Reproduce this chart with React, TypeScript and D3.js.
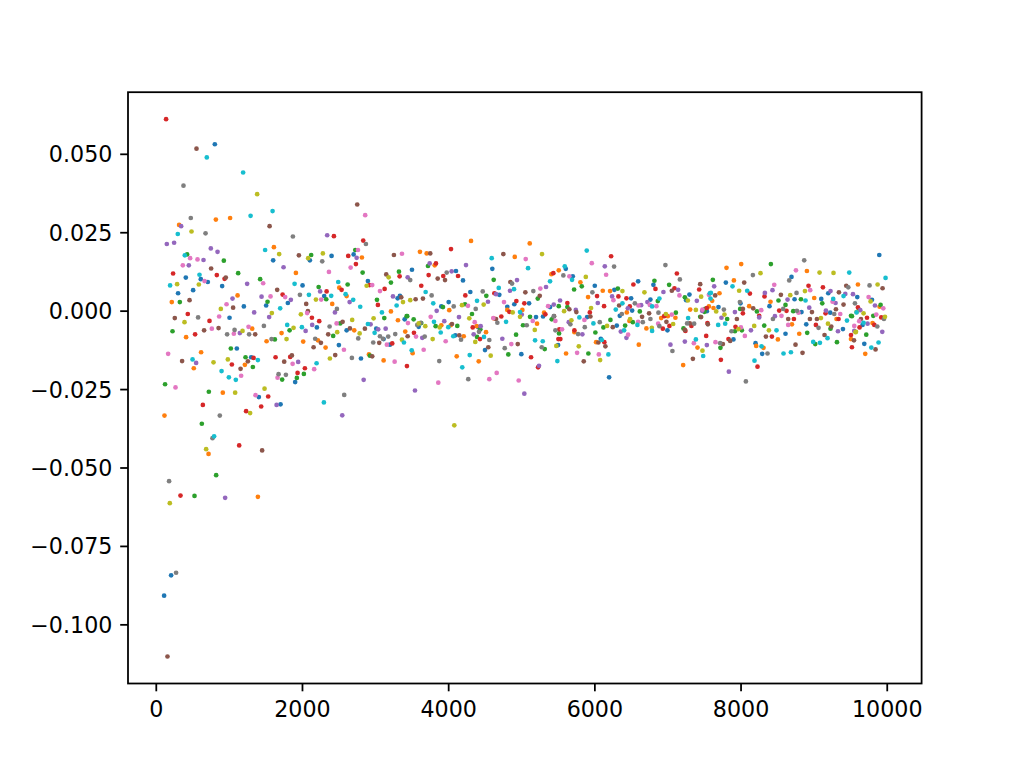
import React from "react";
import * as d3 from "d3";

type Pt = [number, number];

const blueSeries: Pt[] = [
  [801, 0.0532], [404, 0.0107], [609, 0.0102], [705, 0.0093], [901, 0.008], [298, 0.0057], [504, 0.0067], [1198, 0.0015],
  [1002, -0.0021], [1102, -0.0119], [1298, -0.0147], [203, -0.0842], [107, -0.0907], [1599, 0.0162], [2101, 0.0162],
  [2398, 0.0176], [2700, 0.0181], [2001, 0.0082], [2895, 0.0096], [1800, 0.0026], [1503, 0.0018], [2297, 0.0048],
  [3302, 0.0041], [3398, -0.0026], [2197, -0.0052], [2604, -0.0061], [3009, -0.0056], [3110, -0.0089], [3197, -0.0107],
  [2498, -0.0108], [2800, -0.0151], [1900, -0.0226], [1403, -0.0274], [1700, -0.0297], [3498, 0.0132], [4597, 0.0135],
  [4100, 0.0128], [4196, 0.0098], [4296, 0.0061], [4693, 0.0052], [3333, 0.0049], [4000, 0.0029], [3899, 0.0015],
  [4802, 0.0014], [4898, 0.0022], [5100, 0.0025], [5387, 0.0013], [3590, -0.005], [4405, -0.0051], [5195, -0.0019],
  [5291, -0.0017], [4091, -0.0077], [4497, -0.0124], [4994, -0.0137], [5497, -0.0108], [5602, 0.0135], [5698, 0.0111],
  [5999, 0.0081], [6267, 0.0068], [6496, 0.0041], [6592, 0.0095], [6801, 0.0084], [7294, 0.0053], [6760, 0.0037],
  [6510, 0.0002], [7249, 0.0035], [7532, 0.0], [5894, -0.0019], [6341, -0.0015], [6300, -0.0046], [6993, -0.0061],
  [6081, -0.0088], [6195, -0.0211], [8690, 0.0109], [7792, 0.0091], [9097, 0.0039], [9193, 0.0057], [9590, 0.0045],
  [7992, 0.0025], [8732, 0.0038], [8389, 0.0016], [8827, -0.0003], [9220, -0.0005], [7691, 0.0013], [8892, -0.0042],
  [9394, -0.0057], [8608, -0.0072], [7896, -0.009], [8198, -0.0102], [8289, -0.0136], [9891, 0.0179], [9791, 0.0036],
  [9662, -0.0044], [9686, -0.0104],
];

const orangeSeries: Pt[] = [
  [815, 0.0292], [1010, 0.0297], [312, 0.0275], [212, 0.0029], [1112, 0.005], [408, -0.0083], [1312, -0.0056],
  [613, -0.0131], [513, -0.0182], [1212, -0.0171], [910, -0.026], [112, -0.0333], [715, -0.0455], [1390, -0.0592],
  [1609, 0.0204], [2813, 0.0171], [1910, 0.0122], [2503, 0.0075], [2604, 0.0048], [2407, 0.0023], [3210, -0.0001],
  [3306, -0.0029], [2708, -0.0061], [3406, -0.0065], [1509, -0.0096], [1714, -0.007], [2010, -0.0097], [2211, -0.0093],
  [2316, -0.0116], [2909, -0.0138], [3110, -0.0157], [4306, 0.0224], [5109, 0.0216], [3607, 0.0189], [3699, 0.0184],
  [4904, 0.0173], [3809, 0.0146], [5405, 0.0118], [5506, 0.013], [4008, 0.0003], [4802, 0.0004], [5008, 0.0004],
  [3899, -0.0045], [4028, -0.0045], [4383, -0.0048], [4511, -0.0067], [4616, -0.0023], [5209, -0.004], [5305, -0.0005],
  [4206, -0.008], [3507, -0.0134], [4110, -0.0144], [4411, -0.016], [5802, 0.0092], [6108, 0.0065], [6208, 0.0064],
  [5907, 0.0045], [6437, -0.0004], [7304, 0.0005], [7560, 0.0015], [6473, -0.0031], [6705, -0.0055], [6907, -0.0022],
  [6998, -0.0016], [7102, -0.0021], [5720, -0.0067], [6017, -0.0099], [6601, -0.0107], [7404, -0.0116], [7208, -0.0172],
  [5606, -0.0135], [8002, 0.015], [7801, 0.0138], [8901, 0.0128], [7902, 0.0098], [9599, 0.0085], [7705, 0.0057],
  [7605, 0.0033], [9001, 0.0042], [8403, 0.003], [8111, 0.0016], [7623, 0.001], [8696, -0.0042], [9306, -0.0025],
  [8504, -0.009], [8796, -0.0072], [8207, -0.0111], [8307, -0.0117], [9504, -0.0089], [9895, 0.0014], [9799, -0.0038],
  [9699, -0.0136],
];

const greenSeries: Pt[] = [
  [422, 0.0181], [924, 0.0161], [1120, 0.0121], [322, 0.0029], [222, -0.0064], [1020, -0.0119], [1221, -0.0147],
  [1321, -0.0178], [120, -0.0233], [719, -0.0257], [623, -0.0359], [819, -0.0523], [523, -0.0589], [2119, 0.0179],
  [2722, 0.0195], [2823, 0.0123], [1421, 0.0102], [2221, 0.0077], [2618, 0.0085], [3210, 0.0091], [3320, 0.0126],
  [1522, 0.003], [2325, 0.0038], [3019, 0.0036], [3119, -0.0022], [3425, -0.0016], [1824, -0.0061], [2516, -0.0039],
  [2420, -0.0079], [1622, -0.009], [2923, -0.0142], [2019, -0.02], [1722, -0.0218], [1923, -0.0213], [3717, 0.0144],
  [4616, 0.01], [4515, 0.0049], [5219, 0.004], [3922, 0.0013], [4223, 0.0022], [5506, 0.0016], [3433, -0.0016],
  [3521, -0.0026], [3625, -0.0038], [3822, -0.0048], [4118, -0.0047], [4319, -0.0009], [4433, -0.0058], [5113, -0.0018],
  [5017, -0.0045], [5410, -0.0026], [4388, -0.0082], [4922, -0.0075], [4816, -0.0138], [5314, -0.0121], [5821, 0.0079],
  [5716, 0.0069], [6314, 0.0072], [6815, 0.0097], [7016, 0.0084], [7231, 0.0044], [6861, 0.0032], [6615, -0.0001],
  [7509, 0.0007], [5624, 0.0013], [6213, -0.0028], [6414, -0.0046], [6117, -0.0052], [6519, -0.0035], [7108, -0.0005],
  [7212, -0.0055], [5510, -0.0071], [6007, -0.0068], [5911, -0.0135], [8408, 0.015], [7614, 0.01], [8512, 0.0034],
  [8819, 0.0038], [9111, 0.0025], [8608, 0.002], [8217, -0.0001], [9517, -0.0016], [7499, -0.0002], [7988, 0.0007],
  [7810, -0.0025], [7441, -0.0018], [8714, 0.0], [9224, -0.0056], [8905, -0.0069], [7916, -0.0064], [8011, -0.0061],
  [8317, -0.0046], [7718, -0.0117], [9015, -0.0105], [9312, -0.0099], [9909, 0.002], [9613, 0.0004], [9504, -0.0015],
  [9809, -0.0015], [9713, -0.0075],
];

const redSeries: Pt[] = [
  [134, 0.0612], [230, 0.012], [828, 0.0115], [934, 0.0103], [431, -0.0009], [728, -0.0031], [531, -0.0074],
  [1034, -0.017], [1331, -0.0149], [637, -0.0299], [1229, -0.0319], [1134, -0.0428], [331, -0.0588], [2430, 0.0239],
  [2831, 0.0225], [2626, 0.0176], [2731, 0.015], [2535, 0.0068], [2919, 0.0083], [3124, 0.0071], [3329, 0.0111],
  [1728, 0.0053], [2330, 0.0063], [3032, 0.002], [2129, -0.0021], [2229, -0.0032], [3228, -0.0103], [3429, -0.0175],
  [1632, -0.0147], [1832, -0.0146], [2033, -0.0182], [1933, -0.0197], [1531, -0.0272], [1435, -0.0304], [4032, 0.0198],
  [3826, 0.0152], [3726, 0.0115], [3926, 0.0112], [4128, 0.0112], [5432, 0.0121], [3625, 0.0081], [4228, 0.005],
  [4625, 0.0057], [4830, -0.0002], [4926, 0.0032], [5035, 0.0025], [4329, -0.0052], [4720, -0.0017], [5323, -0.001],
  [5514, -0.0058], [3525, -0.0069], [4429, -0.0089], [5127, -0.0147], [5501, -0.0089], [5223, -0.0179], [6222, 0.0175],
  [7122, 0.012], [6030, 0.0048], [6322, 0.0047], [6432, 0.0041], [6527, 0.0085], [6829, 0.0071], [7089, 0.0073],
  [7427, 0.0069], [6478, 0.0015], [6126, 0.0016], [5624, 0.0026], [5931, -0.0004], [6948, -0.0016], [7020, -0.0047],
  [6930, -0.0056], [7239, -0.0063], [7321, -0.0047], [7523, -0.0079], [5720, -0.0061], [5528, -0.0089], [6130, -0.0099],
  [8923, 0.0081], [9120, 0.0076], [8121, 0.0056], [8321, 0.0047], [9599, 0.0012], [8522, 0.0002], [8622, 0.0001],
  [9156, -0.0007], [7532, 0.001], [8025, -0.0007], [8248, -0.0015], [8723, -0.0025], [9024, -0.0044], [9334, -0.0025],
  [9621, -0.0052], [7540, -0.0038], [7924, -0.005], [8422, -0.0081], [9504, -0.0076], [7828, -0.0089], [9517, -0.0115],
  [7724, -0.0155], [8225, -0.0177], [9723, -0.0021], [9918, -0.002], [9823, -0.0044],
];

const purpleSeries: Pt[] = [
  [340, 0.0271], [144, 0.0214], [244, 0.0218], [746, 0.02], [838, 0.0189], [646, 0.0163], [445, 0.0146], [1243, 0.0087],
  [1043, 0.004], [1339, -0.0004], [1143, -0.007], [545, -0.0165], [942, -0.0595], [2338, 0.0242], [2741, 0.017],
  [1741, 0.014], [3439, 0.0108], [1841, 0.0036], [1440, 0.0046], [2242, 0.0063], [2645, 0.0029], [3238, 0.0047],
  [1544, -0.0019], [2444, -0.0004], [2043, -0.0063], [2133, -0.0044], [2932, -0.0042], [3036, -0.0058], [3138, -0.0056],
  [1941, -0.0162], [2837, -0.0219], [1646, -0.0299], [2544, -0.0332], [3740, 0.0152], [4237, 0.0147], [4041, 0.0127],
  [4935, 0.0099], [4648, 0.0054], [4839, 0.0065], [5332, 0.0077], [4538, 0.003], [5438, 0.0021], [5524, 0.0034],
  [3836, 0.0001], [3940, -0.0032], [4141, -0.0019], [4438, -0.0048], [5000, -0.0011], [3639, -0.0085], [4342, -0.0074],
  [4734, -0.0088], [3539, -0.0253], [5236, -0.0174], [5035, -0.0263], [6136, 0.0143], [6236, 0.0047], [6040, 0.0026],
  [6938, 0.0061], [7139, 0.0068], [6719, 0.0029], [6633, 0.0019], [6451, 0.0009], [7395, 0.0033], [7468, 0.0001],
  [5739, 0.0004], [5643, -0.0035], [6355, -0.0065], [5829, -0.0074], [6432, -0.0085], [7034, -0.0107], [7231, -0.0097],
  [7532, -0.0108], [7632, 0.0079], [8430, 0.0067], [8326, 0.0058], [9224, 0.0064], [9426, 0.0055], [9531, 0.0054],
  [8636, 0.0037], [9293, 0.0026], [8933, 0.0011], [9161, 0.0002], [7916, -0.0003], [7732, -0.0021], [8248, -0.002],
  [8463, -0.0016], [9326, -0.0064], [9549, -0.0063], [8135, -0.0061], [7833, -0.0193], [9832, 0.0018], [9631, 0.0003],
  [9731, -0.004], [9932, -0.0066],
];

const brownSeries: Pt[] = [
  [550, 0.0518], [750, 0.0136], [951, 0.0107], [455, 0.0035], [1051, 0.0011], [253, -0.0022], [654, -0.0061],
  [852, -0.0054], [1353, -0.0074], [353, -0.0159], [1253, -0.016], [1153, -0.0184], [153, -0.1101], [1550, 0.0271],
  [2749, 0.034], [1951, 0.0178], [3251, 0.0179], [3146, 0.0117], [1654, 0.0068], [3351, 0.0044], [2051, 0.0023],
  [2074, 0.0], [2549, -0.0034], [2649, -0.0055], [2854, -0.0056], [2352, -0.0074], [3439, -0.008], [3050, -0.0101],
  [2252, -0.0101], [2152, -0.0115], [2448, -0.014], [2954, -0.0144], [1750, -0.0161], [1855, -0.0141], [1448, -0.0444],
  [3748, 0.0184], [4748, 0.0182], [3850, 0.0104], [3950, 0.0099], [4844, 0.0093], [5049, 0.006], [5246, 0.0049],
  [3548, 0.0038], [3648, 0.004], [4045, -0.0041], [4648, -0.0025], [5442, -0.0016], [4145, -0.0077], [4542, -0.0115],
  [4945, -0.0105], [7053, 0.0065], [7441, 0.0086], [6742, -0.0007], [6646, -0.0018], [6332, 0.0018], [7454, -0.0019],
  [5651, 0.0006], [5747, -0.0003], [5939, -0.0017], [6245, -0.0051], [6979, -0.0034], [7231, -0.006], [7299, -0.0039],
  [7546, -0.0042], [6048, -0.01], [6144, -0.0112], [7341, -0.0152], [5848, -0.016], [8043, 0.0091], [9439, 0.0081],
  [9339, 0.006], [7646, 0.005], [8545, 0.0052], [9402, 0.0021], [8166, 0.0009], [8970, -0.0003], [9298, 0.0006],
  [8025, 0.0007], [7943, -0.0025], [8645, -0.0025], [8942, -0.0025], [9038, -0.0025], [9234, -0.0049], [8340, -0.0081],
  [7851, -0.0095], [7751, -0.0105], [8745, -0.0107], [8841, -0.0133], [9142, -0.0076], [9545, -0.0093], [9936, 0.0073],
  [9640, -0.0025], [9840, -0.0122],
];

const pinkSeries: Pt[] = [
  [463, 0.0169], [564, 0.0165], [363, 0.0146], [660, 0.0096], [961, 0.0022], [860, -0.0017], [760, -0.0056],
  [1061, -0.0072], [1262, -0.005], [162, -0.0136], [1161, -0.0206], [263, -0.0243], [1358, -0.0268], [2858, 0.0306],
  [2759, 0.0195], [2659, 0.0139], [3361, 0.0183], [2362, 0.0125], [1462, 0.0089], [2954, 0.0083], [3060, 0.0064],
  [1763, 0.0045], [1563, 0.0047], [2256, 0.0037], [3443, -0.0038], [2064, -0.0006], [2467, -0.0039], [3155, -0.0107],
  [2567, -0.0123], [3261, -0.0161], [1865, -0.0168], [2160, -0.0185], [1659, -0.0212], [5054, 0.0166], [5254, 0.0072],
  [4264, 0.0017], [4757, 0.0029], [5360, 0.0016], [3754, -0.0018], [4356, -0.0035], [4611, -0.0022], [5150, -0.0031],
  [5460, -0.0031], [3553, -0.0081], [3959, -0.0096], [4857, -0.0105], [3658, -0.0123], [3858, -0.0228], [4556, -0.0217],
  [4657, -0.0197], [4958, -0.0221], [5958, 0.0153], [6154, 0.0116], [5651, 0.0111], [6254, 0.0035], [7157, 0.005],
  [6842, 0.0016], [6752, 0.002], [6596, 0.0018], [5857, -0.0028], [6592, -0.0034], [7053, -0.0011], [6866, -0.004],
  [5551, -0.0058], [6455, -0.0075], [7354, -0.0102], [5757, -0.0133], [6054, -0.0138], [8751, 0.013], [8454, 0.0084],
  [8946, 0.0067], [7560, 0.0052], [9252, 0.003], [8276, 0.0003], [8786, -0.0005], [9357, -0.0009], [7472, 0.0005],
  [8553, -0.0015], [8645, -0.0044], [9617, -0.0032], [7998, -0.0052], [8052, -0.0079], [7650, -0.0099], [9745, 0.0045],
  [9946, 0.0009], [9850, -0.0011], [9549, -0.0047],
];

const greySeries: Pt[] = [
  [372, 0.04], [472, 0.0297], [674, 0.0248], [572, -0.002], [969, -0.0074], [1071, -0.006], [1270, -0.0074],
  [869, -0.0333], [769, -0.0405], [175, -0.0542], [271, -0.0834], [1869, 0.0238], [2868, 0.0214], [2270, 0.0159],
  [1965, 0.0052], [2471, 0.0007], [1472, -0.0047], [2371, -0.0049], [2763, -0.0087], [3269, -0.0073], [3060, -0.008],
  [3101, -0.0088], [3173, -0.0081], [2968, -0.01], [1577, -0.0089], [2174, -0.0088], [2676, -0.0149], [1673, -0.0201],
  [1773, -0.0203], [2571, -0.0267], [3973, 0.0123], [3474, 0.0099], [4867, 0.0088], [3767, 0.005], [4466, 0.0063],
  [5158, 0.0064], [4069, 0.0015], [4370, 0.0007], [3570, -0.0044], [3617, -0.0037], [4415, -0.0066], [4666, -0.0037],
  [5068, -0.0045], [5460, -0.0061], [3672, -0.0081], [4169, -0.0091], [4556, -0.0092], [4767, -0.0118], [5273, -0.0115],
  [3871, -0.0159], [4268, -0.0217], [6263, 0.0142], [6965, 0.0147], [7163, 0.0101], [5569, 0.0114], [5966, 0.006],
  [6870, -0.0005], [6547, 0.0025], [6369, -0.0009], [5438, -0.0016], [5665, -0.0042], [6067, -0.0035], [6656, -0.0035],
  [6760, -0.0025], [6883, -0.0048], [7262, -0.0039], [7358, -0.004], [5770, -0.0073], [5862, -0.0051], [7061, -0.0127],
  [8864, 0.0162], [8162, 0.0115], [8659, 0.0098], [9467, 0.0076], [8759, 0.0058], [7984, 0.0029], [8577, 0.0007],
  [9275, -0.0009], [9558, 0.0025], [7765, 0.0005], [8764, 0.0001], [8436, -0.0025], [9060, -0.0053], [7869, -0.0064],
  [7714, -0.0102], [8362, -0.0135], [8066, -0.0224], [9758, 0.0082], [9955, -0.0025], [9864, -0.0049],
];

const oliveSeries: Pt[] = [
  [1380, 0.0373], [482, 0.0254], [285, 0.0086], [582, 0.0085], [883, 0.0007], [386, -0.0035], [1180, -0.0063],
  [783, -0.0163], [979, -0.0154], [1079, -0.026], [1284, -0.0325], [682, -0.044], [185, -0.0612], [1681, 0.0182],
  [2078, 0.0169], [2279, 0.0184], [2878, 0.0081], [3179, 0.0108], [2184, 0.0037], [3375, 0.0029], [1581, -0.0006],
  [1978, -0.001], [2680, -0.0028], [2973, -0.0023], [1878, -0.0053], [2475, -0.0067], [2782, -0.0071], [3361, -0.0091],
  [1782, -0.0089], [2375, -0.0151], [1481, -0.0247], [5277, 0.0182], [3474, 0.0035], [4182, 0.0019], [4479, 0.0021],
  [3590, -0.0039], [3680, -0.0048], [3877, -0.0052], [4282, -0.0023], [4976, -0.0018], [4876, -0.0004], [5178, -0.006],
  [3781, -0.0089], [4364, -0.0098], [4575, -0.0142], [5473, -0.0111], [4077, -0.0364], [5876, 0.0109], [6377, 0.0064],
  [6678, 0.006], [7272, 0.0034], [7382, 0.0004], [5579, 0.0], [5948, 0.001], [5679, -0.0029], [6482, -0.0025],
  [6167, -0.0047], [6779, -0.0053], [6971, -0.0009], [7071, -0.0041], [7472, -0.0126], [5780, -0.0112], [6072, -0.0156],
  [9074, 0.0123], [9265, 0.0122], [8266, 0.0121], [7974, 0.0065], [8874, 0.0064], [8673, 0.0051], [7454, 0.0046],
  [9580, -0.0003], [7660, -0.0001], [7773, -0.0011], [9093, -0.0022], [9189, -0.004], [7965, -0.0057], [8180, -0.0047],
  [8381, -0.0061], [9566, -0.0067], [9868, 0.0085], [9772, 0.0031], [9676, -0.0007], [9969, -0.0018], [9572, -0.0066],
];

const cyanSeries: Pt[] = [
  [691, 0.049], [1188, 0.0442], [1290, 0.0304], [294, 0.0246], [390, 0.0178], [591, 0.0116], [189, 0.0082],
  [496, -0.0154], [893, -0.0191], [993, -0.0211], [1088, -0.0219], [791, -0.0399], [1591, 0.0319], [1489, 0.0195],
  [1892, 0.0087], [2489, 0.0093], [2088, 0.0052], [2393, 0.0049], [2590, 0.0054], [2694, 0.0036], [2790, 0.0014],
  [3288, 0.0018], [1695, 0.0009], [3087, -0.0004], [1791, -0.0044], [1992, -0.0051], [2895, -0.0041], [2987, -0.0069],
  [3388, -0.01], [1390, -0.0156], [2193, -0.0166], [2293, -0.0291], [4589, 0.0169], [5086, 0.0137], [5387, 0.0095],
  [3685, 0.0061], [4685, 0.0074], [4894, 0.007], [3789, 0.0025], [4388, 0.0033], [4976, -0.0003], [3799, -0.0034],
  [3995, -0.0051], [4785, -0.0034], [3891, -0.0068], [4063, -0.008], [4483, -0.0082], [5182, -0.0093], [5287, -0.0096],
  [3494, -0.0125], [4288, -0.014], [4186, -0.0179], [5487, -0.0159], [5889, 0.0193], [5588, 0.0143], [5688, 0.01],
  [7573, 0.0057], [6883, 0.004], [6783, 0.0015], [6377, 0.0025], [6286, 0.0005], [5788, -0.002], [6400, -0.0061],
  [6582, -0.0044], [6783, -0.0063], [7276, -0.0022], [5980, -0.0039], [6095, -0.0092], [7382, -0.009], [7482, -0.0143],
  [6185, -0.0138], [9480, 0.0123], [7883, 0.0079], [8084, 0.0065], [9402, 0.0048], [7587, 0.0058], [7582, 0.004],
  [8882, 0.0034], [9261, 0.0039], [9449, -0.003], [7687, -0.0044], [7783, -0.004], [8485, -0.0061], [8280, -0.0112],
  [8581, -0.0135], [8682, -0.0131], [8987, -0.0098], [9079, -0.0101], [9183, -0.0086], [8184, -0.0158], [9977, 0.0106],
  [9580, -0.0004], [9676, -0.0037], [9782, -0.0116], [9881, -0.01],
];

const seriesList: Pt[][] = [
  blueSeries, orangeSeries, greenSeries, redSeries, purpleSeries,
  brownSeries, pinkSeries, greySeries, oliveSeries, cyanSeries,
];
const seriesColors = [
  "#1f77b4", "#ff7f0e", "#2ca02c", "#d62728", "#9467bd",
  "#8c564b", "#e377c2", "#7f7f7f", "#bcbd22", "#17becf",
];
const xTicks = [0, 2000, 4000, 6000, 8000, 10000];
const yTicks = [-0.1, -0.075, -0.05, -0.025, 0, 0.025, 0.05];
const xDomain: [number, number] = [-387, 10470];
const yDomain: [number, number] = [-0.1187, 0.0698];

export default function App() {
  const W = 1024;
  const H = 768;
  const left = 128;
  const right = 921.6;
  const top = 92.2;
  const bottom = 683.5;
  const x = d3.scaleLinear().domain(xDomain).range([left, right]);
  const y = d3.scaleLinear().domain(yDomain).range([bottom, top]);
  const fmtY = d3.format(".3f");
  const tickLen = 7.8;
  const font = "DejaVu Sans, sans-serif";
  const fs = 22.2;

  return (
    <svg
      width={W}
      height={H}
      style={{ position: "absolute", left: 0, top: 0, background: "#fff" }}
      xmlns="http://www.w3.org/2000/svg"
    >
      <rect x={0} y={0} width={W} height={H} fill="#fff" />
      <g>
        {seriesList.map((s, i) => (
          <g key={i} fill={seriesColors[i]}>
            {s.map((p, j) => (
              <circle key={j} cx={x(p[0])} cy={y(p[1])} r={2.35} />
            ))}
          </g>
        ))}
      </g>
      <rect
        x={left}
        y={top}
        width={right - left}
        height={bottom - top}
        fill="none"
        stroke="#000"
        strokeWidth={1.78}
      />
      {xTicks.map((t) => (
        <g key={"x" + t}>
          <line x1={x(t)} x2={x(t)} y1={bottom} y2={bottom + tickLen} stroke="#000" strokeWidth={1.78} />
          <text x={x(t)} y={717} textAnchor="middle" fontFamily={font} fontSize={fs} fill="#000">
            {String(t)}
          </text>
        </g>
      ))}
      {yTicks.map((t) => (
        <g key={"y" + t}>
          <line x1={left - tickLen} x2={left} y1={y(t)} y2={y(t)} stroke="#000" strokeWidth={1.78} />
          <text x={left - tickLen - 7.8} y={y(t) + 8} textAnchor="end" fontFamily={font} fontSize={fs} fill="#000">
            {fmtY(t)}
          </text>
        </g>
      ))}
    </svg>
  );
}
